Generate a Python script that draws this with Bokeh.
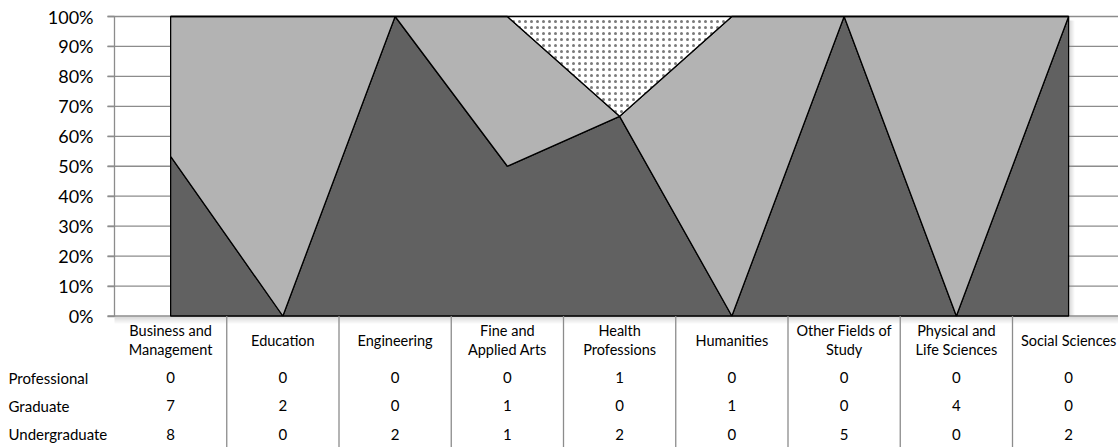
from bokeh.plotting import figure
from bokeh.models import Range1d, LinearAxis, FixedTicker
from bokeh.core.properties import value
from bokeh.embed import file_html
from bokeh.resources import INLINE

# ---------------- data ----------------
categories = ["Business and Management", "Education", "Engineering",
              "Fine and Applied Arts", "Health Professions", "Humanities",
              "Other Fields of Study", "Physical and Life Sciences", "Social Sciences"]
header_labels = ["Business and\nManagement", "Education", "Engineering",
                 "Fine and\nApplied Arts", "Health\nProfessions", "Humanities",
                 "Other Fields of\nStudy", "Physical and\nLife Sciences", "Social Sciences"]
row_names = ["Professional", "Graduate", "Undergraduate"]
professional = [0, 0, 0, 0, 1, 0, 0, 0, 0]
graduate = [7, 2, 0, 1, 0, 1, 0, 4, 0]
undergraduate = [8, 0, 2, 1, 2, 0, 5, 0, 2]
y_ticks = [0, 10, 20, 30, 40, 50, 60, 70, 80, 90, 100]
y_tick_labels = ["0%", "10%", "20%", "30%", "40%", "50%", "60%", "70%", "80%", "90%", "100%"]

# ---------------- layout helpers (page pixel -> data) ----------------
W, H = 1118, 447
OFF = 0
AX_X = 114
COL_W = 112.25
Y100 = 16
Y0 = 315.5
PPU = (Y0 - Y100) / 100.0

def px(sx):
    return -0.5 + (sx - AX_X) / COL_W

def py(sy):
    return (Y0 - sy) / PPU

x_start, x_end = px(OFF), px(OFF + W)
y_start, y_end = py(OFF + H), py(OFF)

p = figure(width=W, height=H, x_range=Range1d(x_start, x_end), y_range=Range1d(y_start, y_end),
           x_axis_type=None, y_axis_type=None, toolbar_location=None, output_backend="svg",
           min_border=0, outline_line_color=None)
p.background_fill_color = "white"
p.border_fill_color = "white"

n = len(categories)
xs = list(range(n))
totals = [a + b + c for a, b, c in zip(undergraduate, graduate, professional)]
c1 = [100.0 * u / t for u, t in zip(undergraduate, totals)]
c2 = [100.0 * (u + g) / t for u, g, t in zip(undergraduate, graduate, totals)]
c3 = [100.0 * (u + g + pr) / t for u, g, pr, t in zip(undergraduate, graduate, professional, totals)]

grid_color = "#8c8c8c"

# soft shadow under plot area
for k in range(7):
    a = 0.16 * (1 - k / 7.0)
    p.quad(left=-0.5, right=x_end, top=py(316 + k), bottom=py(317 + k),
           fill_color="black", fill_alpha=a, line_color=None)
for k in range(5):
    a = 0.14 * (1 - k / 5.0)
    p.quad(left=px(1068 + 1 + k), right=px(1069 + 1 + k), top=py(20), bottom=0,
           fill_color="black", fill_alpha=a, line_color=None)

# gridlines
p.segment(x0=[px(107)] * len(y_ticks), x1=[x_end] * len(y_ticks), y0=y_ticks, y1=y_ticks,
          line_color=grid_color, line_width=1.3)

# stacked 100% areas
xs_poly = xs + xs[::-1]
p.patch(xs_poly, c1 + [0.0] * n, fill_color="#616161", line_color="black", line_width=1.3)
p.patch(xs_poly, c2 + c1[::-1], fill_color="#b3b3b3", line_color="black", line_width=1.3)
p.patch(xs_poly, c3 + c2[::-1], fill_color="white", hatch_pattern="dot", hatch_color="#7a7a7a",
        hatch_scale=6, hatch_weight=2.2, line_color="black", line_width=1.3)

# y axis
yaxis = LinearAxis(ticker=FixedTicker(ticks=y_ticks), fixed_location=-0.5, bounds=(0, 100))
yaxis.major_label_overrides = {t: l for t, l in zip(y_ticks, y_tick_labels)}
yaxis.axis_line_color = grid_color
yaxis.axis_line_width = 1.3
yaxis.major_tick_line_color = grid_color
yaxis.major_tick_line_width = 1.3
yaxis.major_tick_in = 0
yaxis.major_tick_out = 7
yaxis.minor_tick_line_color = None
yaxis.major_label_standoff = 14
yaxis.major_label_text_font = "Lato"
yaxis.major_label_text_font_size = "18px"
yaxis.major_label_text_color = "black"
p.add_layout(yaxis, "left")

# table: vertical separators
seps = [i + 0.5 for i in range(n - 1)]
p.segment(x0=seps, x1=seps, y0=[0] * len(seps), y1=[y_start] * len(seps),
          line_color=grid_color, line_width=1.3)

font = value("Lato")
p.text(x=xs, y=[py(339.5)] * n, text=header_labels, text_font=font, text_font_size="14.5px",
       text_align="center", text_baseline="middle", text_color="black", text_line_height=1.1)

row_y = [py(377), py(405), py(433.5)]
rows = [professional, graduate, undergraduate]
p.text(x=[px(8)] * 3, y=row_y, text=row_names, text_font=font, text_font_size="15px",
       text_align="left", text_baseline="middle", text_color="black")
for vals, ry in zip(rows, row_y):
    p.text(x=xs, y=[ry] * n, text=[str(v) for v in vals], text_font=font, text_font_size="15px",
           text_align="center", text_baseline="middle", text_color="black")

open("out.html", "w").write(file_html(p, INLINE))
